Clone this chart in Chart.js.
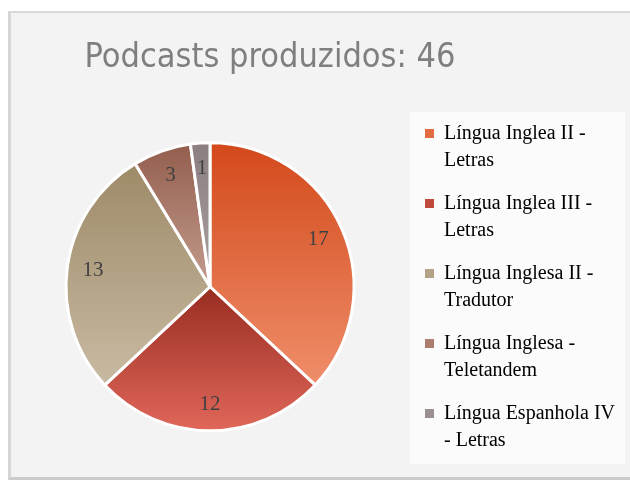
<!DOCTYPE html>
<html lang="pt">
<head>
    <meta charset="UTF-8">
    <title>Podcasts produzidos</title>
    <script src="https://cdn.jsdelivr.net/npm/chart.js"></script>
    <style>
        body {
            margin: 0;
            background-color: #ffffff;
            width: 630px;
            height: 482px;
            overflow: hidden;
            position: relative;
        }

        .frame {
            position: absolute;
            left: 8px;
            top: 11px;
            width: 640px;
            height: 464px;
            background-color: #f3f3f3;
            border-top: 2px solid #d9d9d9;
            border-left: 3px solid #d6d6d6;
            border-bottom: 3px solid #cbcbcb;
        }

        .legend-bg {
            position: absolute;
            left: 410px;
            top: 112px;
            width: 215px;
            height: 352px;
            background-color: #fbfbfb; /* lighter box behind the legend */
        }

        canvas {
            position: absolute;
            left: 0;
            top: 0;
        }
    </style>
</head>
<body>
    <div class="frame"></div>
    <div class="legend-bg"></div>
    <canvas id="podcastChart" width="630" height="482"></canvas>

    <script>
        const categories = [
            'Língua Inglea II - Letras',
            'Língua Inglea III - Letras',
            'Língua Inglesa II - Tradutor',
            'Língua Inglesa - Teletandem',
            'Língua Espanhola IV - Letras'
        ];
        // how the legend wraps each name
        const legendLines = [
            ['Língua Inglea II -', 'Letras'],
            ['Língua Inglea III -', 'Letras'],
            ['Língua Inglesa II -', 'Tradutor'],
            ['Língua Inglesa -', 'Teletandem'],
            ['Língua Espanhola IV', '- Letras']
        ];
        const podcasts = [17, 12, 13, 3, 1];

        const topColors = ['#d3491b', '#982c21', '#9d8a68', '#935e4d', '#8b7e80'];
        const bottomColors = ['#ef8e6a', '#e0675a', '#c8baa2', '#c49c8e', '#aaa0a2'];
        const midColors = ['#e26b42', '#bd4a3c', '#b3a285', '#ac7d6e', '#9b8f91'];

        const total = podcasts.reduce((a, b) => a + b, 0);
        const pieRadius = 144;
        const titleCenterX = 270; // title sits over the pie + gap, not the whole canvas

        // vertical gradient over each slice's own height
        function sliceGradient(context) {
            const chart = context.chart;
            const area = chart.chartArea;
            const i = context.dataIndex;
            if (!area || i === undefined) {
                return midColors[i] || midColors[0];
            }
            const cx = (area.left + area.right) / 2;
            const cy = (area.top + area.bottom) / 2;
            let start = -Math.PI / 2;
            for (let j = 0; j < i; j++) {
                start += 2 * Math.PI * podcasts[j] / total;
            }
            const end = start + 2 * Math.PI * podcasts[i] / total;
            let ymin = Math.min(cy, cy + pieRadius * Math.sin(start), cy + pieRadius * Math.sin(end));
            let ymax = Math.max(cy, cy + pieRadius * Math.sin(start), cy + pieRadius * Math.sin(end));
            const has = a => {
                for (let k = -1; k <= 2; k++) {
                    const v = a + k * 2 * Math.PI;
                    if (v >= start && v <= end) return true;
                }
                return false;
            };
            if (has(Math.PI / 2)) ymax = cy + pieRadius;
            if (has(-Math.PI / 2)) ymin = cy - pieRadius;
            const g = chart.ctx.createLinearGradient(0, ymin, 0, ymax);
            g.addColorStop(0, topColors[i]);
            g.addColorStop(1, bottomColors[i]);
            return g;
        }

        const valueLabels = {
            id: 'valueLabels',
            afterDatasetsDraw(chart) {
                const ctx = chart.ctx;
                const meta = chart.getDatasetMeta(0);
                ctx.save();
                ctx.font = '21px "Liberation Serif", serif';
                ctx.fillStyle = '#404040';
                ctx.textAlign = 'center';
                ctx.textBaseline = 'middle';
                meta.data.forEach((arc, i) => {
                    const p = arc.getProps(['x', 'y', 'startAngle', 'endAngle', 'outerRadius'], true);
                    const mid = (p.startAngle + p.endAngle) / 2;
                    const d = p.outerRadius * 0.82;
                    ctx.fillText(String(podcasts[i]), p.x + Math.cos(mid) * d, p.y + Math.sin(mid) * d);
                });
                ctx.restore();
            }
        };

        // re-centre the title box after layout
        const titlePlacement = {
            id: 'titlePlacement',
            afterLayout(chart) {
                const t = chart.titleBlock;
                if (!t) return;
                t.right = 2 * titleCenterX - t.left;
                t.width = t.right - t.left;
            }
        };

        new Chart(document.getElementById('podcastChart'), {
            type: 'pie',
            data: {
                labels: categories,
                datasets: [{
                    data: podcasts,
                    backgroundColor: sliceGradient,
                    borderColor: '#ffffff',
                    borderWidth: 3,
                    radius: pieRadius
                }]
            },
            options: {
                responsive: false,
                animation: false,
                layout: {
                    padding: { left: 11, right: 5, top: 20, bottom: 16 }
                },
                plugins: {
                    title: {
                        display: true,
                        text: 'Podcasts produzidos: ' + total,
                        color: '#7f7f7f',
                        font: { family: '"Liberation Sans Narrow", "DejaVu Sans Condensed", sans-serif', size: 34, weight: 'normal', lineHeight: 1.2 },
                        padding: { top: 18, bottom: 28.7 }
                    },
                    legend: {
                        position: 'right',
                        align: 'start',
                        fullSize: false,
                        maxWidth: 216,
                        labels: {
                            boxWidth: 9,
                            boxHeight: 9,
                            padding: 16,
                            color: '#404040',
                            font: { family: '"Liberation Serif", serif', size: 20, lineHeight: 1.35 },
                            generateLabels: () => legendLines.map((lines, i) => ({
                                text: lines,
                                fillStyle: midColors[i],
                                strokeStyle: midColors[i],
                                lineWidth: 0,
                                hidden: false,
                                index: i
                            }))
                        }
                    },
                    tooltip: { enabled: false }
                }
            },
            plugins: [valueLabels, titlePlacement]
        });
    </script>
</body>
</html>
